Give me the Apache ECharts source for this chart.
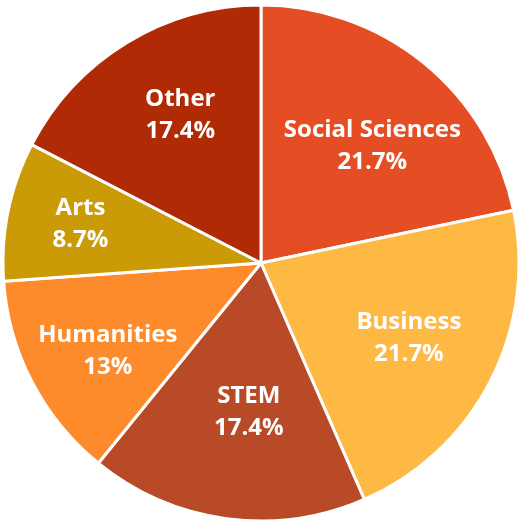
<!DOCTYPE html>
<html>
<head>
<meta charset="utf-8">
<script src="https://cdn.jsdelivr.net/npm/echarts@6/dist/echarts.min.js"></script>
<style>
  html, body { margin: 0; padding: 0; background: #fff; }
  #chart { width: 521px; height: 522px; }
</style>
</head>
<body>
<div id="chart"></div>
<script>
// slices, clockwise from 12 o'clock
const categories = ['Social Sciences', 'Business', 'STEM', 'Humanities', 'Arts', 'Other']
const percents = [21.7, 21.7, 17.4, 13, 8.7, 17.4]
const colors = ['#E54E25', '#FEB844', '#B84A28', '#FD8A2B', '#CB9A07', '#B02A06']

// label placement: distance from centre and angle nudge (deg)
const labelDist = [163, 165, 148, 176, 185, 170]
const labelTurn = [4, -1, -3, -2, 1, 3]
const cx = 261, cy = 263

const total = percents.reduce((a, b) => a + b, 0)

const chart = echarts.init(document.getElementById('chart'))

chart.setOption({
  animation: false,
  series: [{
    type: 'pie',
    center: [cx, cy],
    radius: 258,
    startAngle: 90,
    clockwise: true,
    data: categories.map((name, i) => ({
      name: name,
      value: percents[i],
      itemStyle: { color: colors[i] }
    })),
    itemStyle: {
      borderColor: '#fff',
      borderWidth: 3
    },
    label: {
      show: true,
      position: 'inside',
      color: '#fff',
      fontFamily: 'Open Sans',
      fontWeight: 'bold',
      fontSize: 24,
      lineHeight: 32,
      formatter: p => p.name + '\n' + p.value + '%'
    },
    labelLine: { show: false },
    emphasis: { disabled: true },
    // put each label along the middle of its slice
    labelLayout: function (params) {
      const i = params.dataIndex
      let before = 0
      for (let k = 0; k < i; k++) before += percents[k]
      const mid = (before + percents[i] / 2) / total * 360 + labelTurn[i]
      const a = mid * Math.PI / 180
      const d = labelDist[i]
      return {
        x: cx + Math.sin(a) * d,
        y: cy - Math.cos(a) * d + 2,
        align: 'center',
        verticalAlign: 'middle'
      }
    }
  }]
})
</script>
</body>
</html>
